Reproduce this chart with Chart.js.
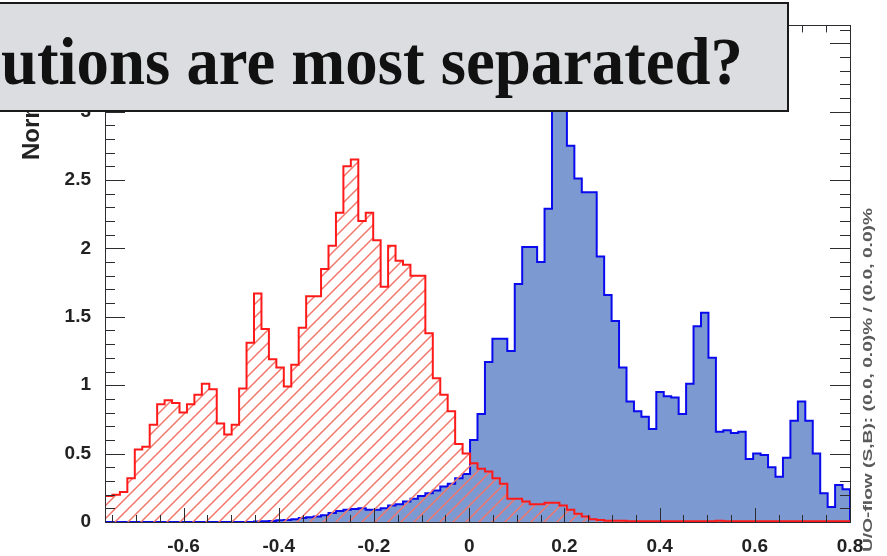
<!DOCTYPE html>
<html>
<head>
<meta charset="utf-8">
<script src="https://cdn.jsdelivr.net/npm/chart.js@4.4.0/dist/chart.umd.min.js"></script>
<style>
  html, body { margin: 0; padding: 0; background: #fff; }
  #wrap { position: relative; width: 887px; height: 556px; overflow: hidden; }
  #wrap canvas { position: absolute; left: 0; top: 0; }
  #title {
    position: absolute; left: -3px; top: 2px; width: 792px; height: 110px;
    box-sizing: border-box; background: #dcdde0; border: 2px solid #1a1a1a; overflow: hidden;
  }
  #title span {
    position: absolute; left: 2px; top: 18px; line-height: 1;
    font: bold 68px "Liberation Serif", serif; color: #111;
    white-space: nowrap; transform-origin: left top;
  }
</style>
</head>
<body>
<div id="wrap">
  <canvas id="hist" width="887" height="556"></canvas>
  <div id="title"><span id="titleText"></span></div>
</div>
<script>
// histogram range and binning
const binLo = -0.765, binHi = 0.8, nBins = 100

// signal (blue), normalised bin contents
const signal = [
  0, 0, 0, 0, 0, 0, 0, 0, 0, 0,
  0, 0, 0, 0, 0, 0, 0, 0, 0, 0,
  0.003, 0.005, 0.008, 0.012, 0.015, 0.02, 0.03, 0.035, 0.04, 0.05,
  0.065, 0.08, 0.09, 0.095, 0.10, 0.09, 0.09, 0.10, 0.12, 0.13,
  0.15, 0.17, 0.19, 0.21, 0.23, 0.26, 0.28, 0.32, 0.35, 0.60,
  0.79, 1.17, 1.34, 1.34, 1.25, 1.74, 2.01, 2.01, 1.90, 2.29,
  3.3, 3.1, 2.75, 2.51, 2.41, 2.41, 1.94, 1.66, 1.47, 1.13,
  0.88, 0.81, 0.77, 0.68, 0.95, 0.92, 0.91, 0.79, 1.01, 1.43,
  1.53, 1.20, 0.66, 0.67, 0.65, 0.66, 0.46, 0.50, 0.49, 0.40,
  0.33, 0.47, 0.74, 0.88, 0.74, 0.50, 0.21, 0.11, 0.27, 0.24
]

// background (red, hatched)
const background = [
  0.19, 0.20, 0.22, 0.32, 0.53, 0.55, 0.71, 0.86, 0.89, 0.87,
  0.80, 0.86, 0.93, 1.01, 0.97, 0.72, 0.64, 0.71, 0.975, 1.31,
  1.67, 1.41, 1.19, 1.13, 0.99, 1.15, 1.42, 1.65, 1.65, 1.85,
  2.02, 2.26, 2.60, 2.65, 2.20, 2.26, 2.06, 1.72, 2.02, 1.91,
  1.88, 1.80, 1.80, 1.38, 1.05, 0.93, 0.81, 0.57, 0.50, 0.43,
  0.39, 0.37, 0.32, 0.28, 0.17, 0.17, 0.15, 0.13, 0.13, 0.14,
  0.14, 0.12, 0.09, 0.06, 0.04, 0.02, 0.015, 0.01, 0.01, 0.01,
  0.005, 0.005, 0.005, 0.005, 0.005, 0.005, 0.005, 0.005, 0.005, 0.005,
  0.005, 0.005, 0.01, 0.005, 0.005, 0.005, 0.005, 0.005, 0.005, 0.005,
  0.005, 0.005, 0.005, 0.005, 0.005, 0.005, 0.005, 0.005, 0.005, 0.005
]

const xTickVals = [-0.6, -0.4, -0.2, 0, 0.2, 0.4, 0.6, 0.8]
const yTickVals = [0, 0.5, 1, 1.5, 2, 2.5, 3]
const yMax = 3.63

const titleText = 'utions are most separated?'
const yTitle = 'Normalized'
const flowNote = 'U/O-flow (S,B): (0.0, 0.0)% / (0.0, 0.0)%'

// bin contents -> step outline points (left edges + closing edge)
function histPoints(vals) {
  const w = (binHi - binLo) / nBins
  let pts = [{x: binLo, y: 0}]
  vals.forEach((v, i) => pts.push({x: binLo + i * w, y: v}))
  pts.push({x: binHi, y: vals[vals.length - 1]})
  pts.push({x: binHi, y: 0})
  return pts
}

function hatch(ctx) {
  const s = 13, c = document.createElement('canvas')
  c.width = s; c.height = s
  const g = c.getContext('2d')
  g.strokeStyle = '#f2766b'
  g.lineWidth = 1.5
  g.beginPath()
  g.moveTo(-1, s + 1); g.lineTo(s + 1, -1)
  g.moveTo(-2, 2); g.lineTo(2, -2)
  g.moveTo(s - 2, s + 2); g.lineTo(s + 2, s - 2)
  g.stroke()
  return ctx.createPattern(c, 'repeat')
}

// ROOT-like frame with inward ticks on all four sides, plus side texts
const rootFrame = {
  id: 'rootFrame',
  afterDatasetsDraw(chart) {
    const {ctx, chartArea: a, scales: {x, y}} = chart
    ctx.save()
    ctx.strokeStyle = '#2b2b30'
    ctx.lineWidth = 1
    ctx.beginPath()
    for (let k = Math.ceil(binLo / 0.05); k * 0.05 <= binHi + 1e-9; k++) {
      const v = k * 0.05
      const major = Math.abs(v / 0.2 - Math.round(v / 0.2)) < 1e-6
      const len = major ? 14 : 7
      const px = Math.round(x.getPixelForValue(v)) + 0.5
      ctx.moveTo(px, a.bottom); ctx.lineTo(px, a.bottom - len)
      ctx.moveTo(px, a.top); ctx.lineTo(px, a.top + len)
    }
    for (let k = 0; k * 0.1 <= yMax + 1e-9; k++) {
      const v = k * 0.1
      const major = k % 5 == 0
      const len = major ? 20 : 10
      const py = Math.round(y.getPixelForValue(v)) + 0.5
      ctx.moveTo(a.left, py); ctx.lineTo(a.left + len, py)
      ctx.moveTo(a.right, py); ctx.lineTo(a.right - len, py)
    }
    ctx.stroke()
    ctx.strokeRect(Math.round(a.left) + 0.5, Math.round(a.top) + 0.5,
                   Math.round(a.right - a.left), Math.round(a.bottom - a.top))
    ctx.restore()
  },
  afterDraw(chart) {
    const {ctx} = chart
    ctx.save()
    ctx.fillStyle = '#222'
    ctx.font = 'bold 24px "Liberation Sans", Arial, sans-serif'
    ctx.textBaseline = 'alphabetic'
    ctx.textAlign = 'left'
    ctx.translate(39, 160)
    ctx.rotate(-Math.PI / 2)
    ctx.fillText(yTitle, 0, 0)
    ctx.restore()

    ctx.save()
    ctx.fillStyle = '#5a5a5a'
    ctx.font = 'bold 13px "Liberation Sans", Arial, sans-serif'
    ctx.textBaseline = 'middle'
    ctx.textAlign = 'left'
    ctx.translate(868, 552)
    ctx.rotate(-Math.PI / 2)
    ctx.scale(344 / ctx.measureText(flowNote).width, 1)
    ctx.fillText(flowNote, 0, 0)
    ctx.restore()
  }
}

const tickFont = {family: '"Liberation Sans", Arial, sans-serif', size: 19, weight: 'bold'}
const cv = document.getElementById('hist')

new Chart(cv, {
  type: 'line',
  data: {
    datasets: [{
      data: histPoints(background),
      stepped: 'before',
      borderColor: '#ff1a1a',
      borderWidth: 2,
      backgroundColor: hatch(cv.getContext('2d')),
      fill: 'origin',
      pointRadius: 0,
      order: 1
    }, {
      data: histPoints(signal),
      stepped: 'before',
      borderColor: '#0a0aee',
      borderWidth: 2,
      backgroundColor: '#7d99d1',
      fill: 'origin',
      pointRadius: 0,
      order: 2
    }]
  },
  options: {
    responsive: false,
    animation: false,
    layout: {padding: {left: 0, right: 37, top: 19, bottom: 0}},
    plugins: {legend: {display: false}, tooltip: {enabled: false}},
    scales: {
      x: {
        type: 'linear', min: binLo, max: binHi,
        grid: {display: false, drawTicks: false},
        border: {display: false},
        afterBuildTicks: s => { s.ticks = xTickVals.map(v => ({value: v})) },
        afterFit: s => { s.height = 34 },
        ticks: {font: tickFont, color: '#222', padding: 13, maxRotation: 0,
                callback: v => String(Math.round(v * 10) / 10)}
      },
      y: {
        type: 'linear', min: 0, max: yMax,
        grid: {display: false, drawTicks: false},
        border: {display: false},
        afterBuildTicks: s => { s.ticks = yTickVals.map(v => ({value: v})) },
        afterFit: s => { s.width = 105 },
        ticks: {font: tickFont, color: '#222', padding: 14,
                callback: v => String(v)}
      }
    }
  },
  plugins: [rootFrame]
})

// title strip, squeezed to the width it has in the picture
const span = document.getElementById('titleText')
span.textContent = titleText
const w = span.getBoundingClientRect().width
span.style.transform = 'scaleX(' + (742 / w) + ')'
</script>
</body>
</html>
